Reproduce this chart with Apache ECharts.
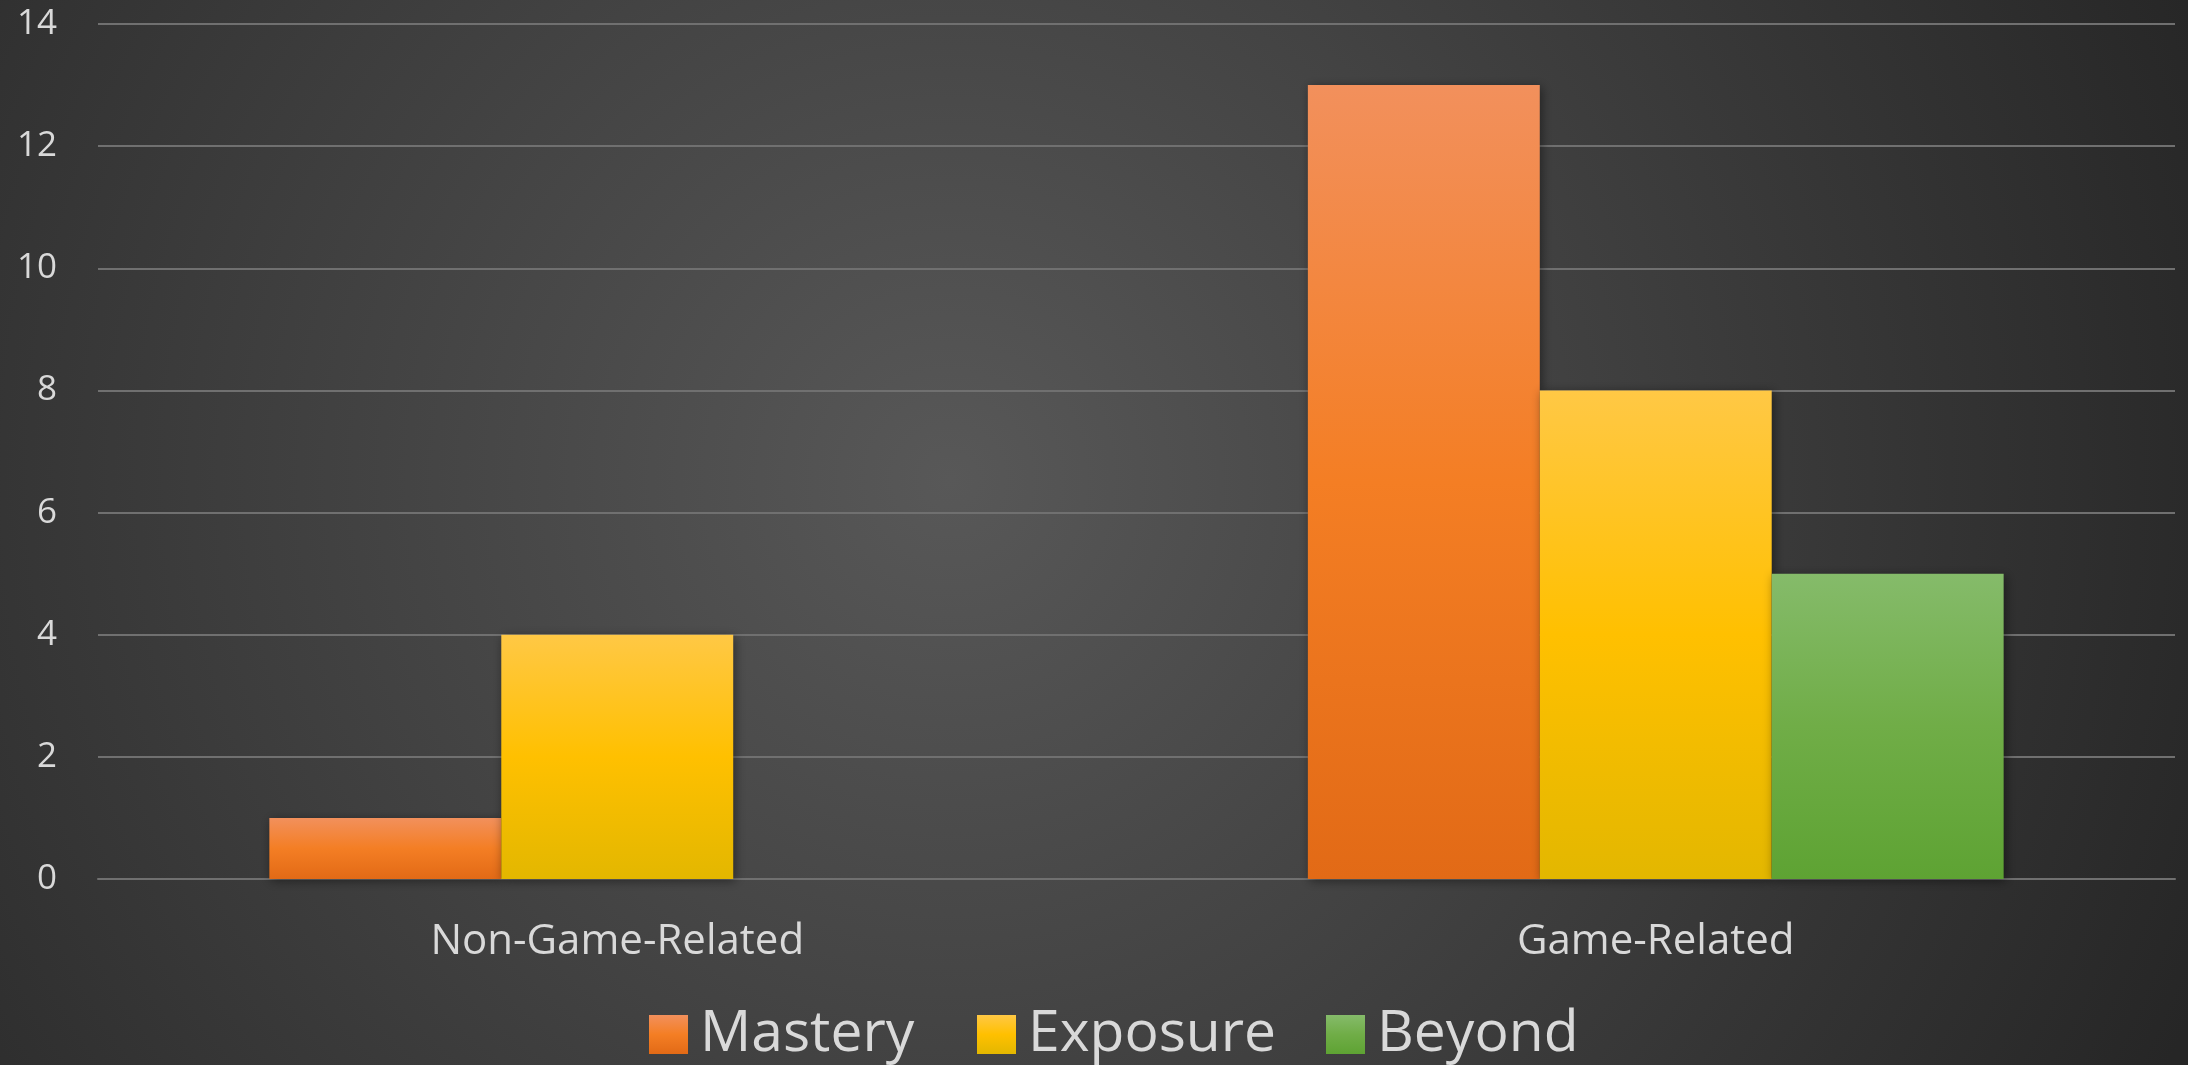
<!DOCTYPE html>
<html>
<head>
<meta charset="utf-8">
<style>
  html, body { margin: 0; padding: 0; background: #2a2a2a; }
  #chart { width: 2188px; height: 1065px; }
</style>
<script src="https://cdn.jsdelivr.net/npm/echarts@6/dist/echarts.min.js"></script>
</head>
<body>
<div id="chart"></div>
<script>
// Categories on the x axis
const categories = ['Non-Game-Related', 'Game-Related'];

// Series names and values per category
const seriesNames = ['Mastery', 'Exposure', 'Beyond'];
const mastery = [1, 13];
const exposure = [4, 8];
const beyond = [0, 5];

// Y axis ticks
const yMin = 0;
const yMax = 14;
const yStep = 2;

const FONT = '"Open Sans", "Noto Sans", sans-serif';
const TEXT = '#d9d9d9';

// Vertical gradient: lighter top, saturated middle, darker bottom
function barFill(top, mid, bottom) {
  return new echarts.graphic.LinearGradient(0, 0, 0, 1, [
    { offset: 0, color: top },
    { offset: 0.5, color: mid },
    { offset: 1, color: bottom }
  ]);
}

function barSeries(name, data, fill) {
  return {
    name: name,
    type: 'bar',
    data: data.map(v => (v === 0 ? null : v)),
    barGap: '0%',
    barCategoryGap: '33%',
    itemStyle: {
      color: fill,
      shadowBlur: 10,
      shadowColor: 'rgba(0,0,0,0.45)',
      shadowOffsetX: 2,
      shadowOffsetY: 2
    },
    emphasis: { disabled: true }
  };
}

// One legend entry per component so each sits at its own x position
const legendLefts = [649, 977, 1326];
const legends = seriesNames.map((name, i) => ({
  data: [name],
  left: legendLefts[i],
  top: 1006,
  padding: 0,
  itemWidth: 39,
  itemHeight: 39,
  icon: 'rect',
  textStyle: { color: TEXT, fontSize: 57, fontFamily: FONT, padding: [0, 0, 0, 7] }
}));

const chart = echarts.init(document.getElementById('chart'), null, { renderer: 'canvas' });

chart.setOption({
  animation: false,
  backgroundColor: {
    type: 'radial',
    x: 0.434, y: 0.45, r: 1.27,
    colorStops: [
      { offset: 0, color: '#585858' },
      { offset: 1, color: '#262626' }
    ]
  },
  grid: { left: 98, right: 13, top: 24, bottom: 186, containLabel: false },
  legend: legends,
  xAxis: {
    type: 'category',
    data: categories,
    axisLine: { show: true, lineStyle: { color: '#707070', width: 2 } },
    axisTick: { show: false },
    axisLabel: { color: TEXT, fontSize: 42, fontFamily: FONT, margin: 42 },
    splitLine: { show: false }
  },
  yAxis: {
    type: 'value',
    min: yMin,
    max: yMax,
    interval: yStep,
    axisLine: { show: false },
    axisTick: { show: false },
    axisLabel: { color: TEXT, fontSize: 35, fontFamily: FONT, margin: 41 },
    splitLine: { lineStyle: { color: '#707070', width: 2 } }
  },
  series: [
    barSeries(seriesNames[0], mastery, barFill('#f2905c', '#f47e24', '#e26a16')),
    barSeries(seriesNames[1], exposure, barFill('#ffc845', '#ffc000', '#e3b700')),
    barSeries(seriesNames[2], beyond, barFill('#85bb6a', '#70ad47', '#5ea333'))
  ],
  color: ['#f47e24', '#ffc000', '#70ad47']
});
</script>
</body>
</html>
